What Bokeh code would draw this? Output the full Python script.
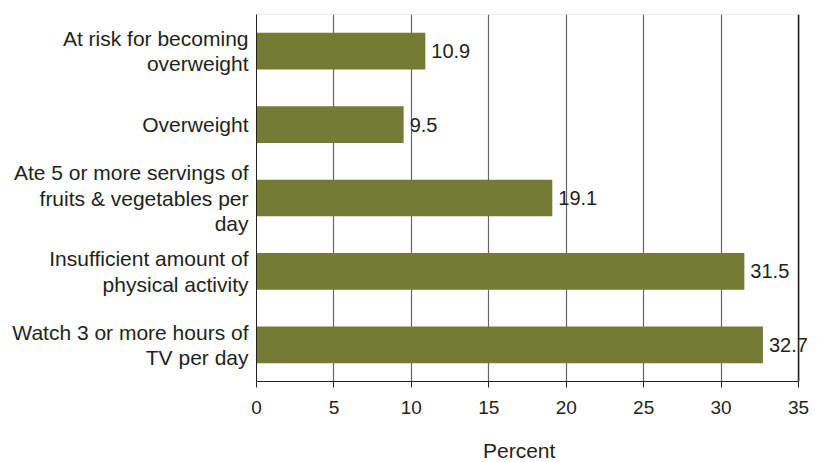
from bokeh.plotting import figure
from bokeh.layouts import column
from bokeh.models import ColumnDataSource, LabelSet, Span, FactorRange, FixedTicker, BoxAnnotation, Div
from bokeh.core.properties import value
from bokeh.embed import file_html
from bokeh.resources import INLINE

# Risk indicators, listed top to bottom
categories = [
    "At risk for becoming\noverweight",
    "Overweight",
    "Ate 5 or more servings of\nfruits & vegetables per\nday",
    "Insufficient amount of\nphysical activity",
    "Watch 3 or more hours of\nTV per day",
]
percent = [10.9, 9.5, 19.1, 31.5, 32.7]
x_ticks = [0, 5, 10, 15, 20, 25, 30, 35]
x_max = 35

BAR = "#737B35"
INK = "#231F20"
FONT = "Liberation Sans"

source = ColumnDataSource(dict(
    cat=categories,
    pct=percent,
    lbl=[f"{v:.1f}" for v in percent],
))

# The range runs a little past 35 so the last value label has room
p = figure(
    width=817, height=440,
    y_range=FactorRange(factors=list(reversed(categories))),
    x_range=(0, 35.9),
    output_backend="svg", toolbar_location=None,
    min_border_left=256, min_border_right=5,
    min_border_top=14, min_border_bottom=59,
)
p.outline_line_color = None

# Light box for the 0-35 plot region, dark edge at 35
p.add_layout(BoxAnnotation(left=0, right=x_max, fill_color=None,
                           line_color="#888888", line_width=1.2, level="underlay"))
p.add_layout(Span(location=x_max, dimension="height",
                  line_color="#222222", line_width=1.5))

p.hbar(y="cat", right="pct", left=0, height=0.5, source=source,
       fill_color=BAR, line_color=None)

labels = LabelSet(x="pct", y="cat", text="lbl", source=source,
                  x_offset=6, text_baseline="middle",
                  text_font=value(FONT), text_font_size="20px", text_color=INK)
p.add_layout(labels)

p.xgrid.ticker = FixedTicker(ticks=x_ticks)
p.xgrid.grid_line_color = "#666666"
p.xgrid.grid_line_width = 1.2
p.ygrid.grid_line_color = None

p.xaxis.ticker = FixedTicker(ticks=x_ticks)
p.xaxis.bounds = (0, x_max)
p.xaxis.major_label_text_font = FONT
p.xaxis.major_label_text_font_size = "19px"
p.xaxis.major_label_text_color = INK
p.xaxis.major_label_text_line_height = 0.9
p.xaxis.major_label_standoff = 13
p.xaxis.major_tick_out = 6
p.xaxis.major_tick_in = 0
p.xaxis.minor_tick_line_color = None
p.xaxis.axis_line_color = "#222222"
p.xaxis.major_tick_line_color = "#222222"

p.yaxis.major_label_text_font = FONT
p.yaxis.major_label_text_font_size = "21px"
p.yaxis.major_label_text_line_height = 1.1
p.yaxis.major_label_text_color = INK
p.yaxis.major_label_standoff = 8
p.yaxis.major_tick_out = 0
p.yaxis.major_tick_in = 0
p.yaxis.axis_line_color = "#222222"

# Axis title set under the 0-35 span
x_title = Div(text="Percent", width=200, height=22, margin=(0, 0, 0, 483),
              styles={"font-family": FONT, "font-size": "21px",
                      "line-height": "22px", "color": INK})

layout = column(p, x_title, spacing=0)

open("out.html", "w").write(file_html(layout, INLINE))
